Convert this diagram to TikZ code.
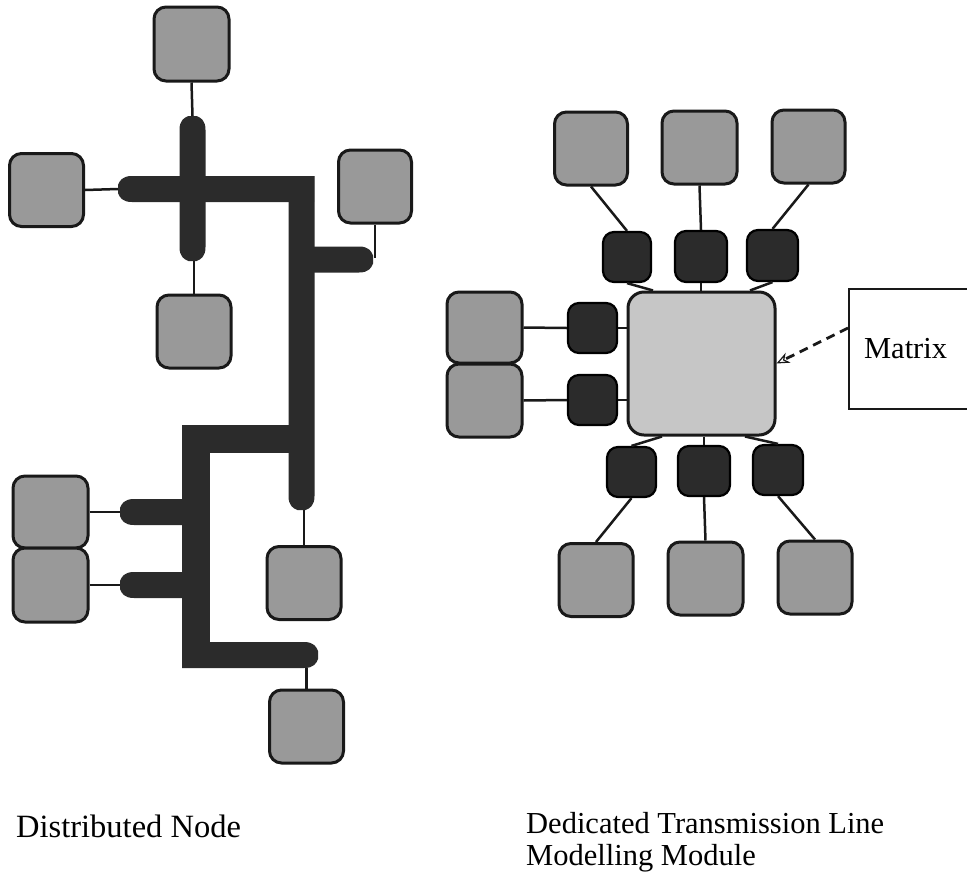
\documentclass[tikz,border=0pt]{standalone}
\usepackage{fontspec}
\setmainfont{Liberation Serif}
\usetikzlibrary{arrows.meta,calc}
\definecolor{busc}{HTML}{2B2B2B}
\definecolor{boxc}{HTML}{999999}
\definecolor{matc}{HTML}{C6C6C6}
\tikzset{
  gbox/.style={draw=black!90, line width=3pt, fill=boxc, rounded corners=12pt, inner sep=0pt, minimum width=74pt, minimum height=73pt},
  dbox/.style={draw=black, line width=2.2pt, fill=busc, rounded corners=11pt, inner sep=0pt, minimum width=50pt, minimum height=50pt},
  mbox/.style={draw=black!90, line width=3pt, fill=matc, rounded corners=16pt, inner sep=0pt, minimum width=147pt, minimum height=143pt},
  wire/.style={line width=2.5pt, draw=black!90},
  caption/.style={font=\fontsize{31}{36}\selectfont, inner sep=0pt, anchor=base west},
  pics/tipbar/.style={code={\fill[busc] (#1,-13) -- (14,-13) .. controls (4,-13) and (1.5,-8) .. (0,-4) -- (0,4) .. controls (1.5,8) and (4,13) .. (14,13) -- (#1,13) -- cycle;}},
}
\begin{document}
\begin{tikzpicture}[x=1pt,y=-1pt]
\path[fill=white, use as bounding box] (0,0) rectangle (967,879);

% ---------- Distributed node: bus structure ----------
\pic[rotate=-90] at (192.5,116) {tipbar=73};
\pic[rotate=90] at (192.5,261) {tipbar=73};
\pic at (118,189) {tipbar=196};
\pic[rotate=90] at (301.5,510) {tipbar=334};
\pic[rotate=180] at (373,259.5) {tipbar=62};
\fill[busc] (182,425) rectangle (312,453);
\fill[busc] (182,425) rectangle (210,668);
\pic[rotate=180] at (318,655) {tipbar=136};
\pic at (120,512) {tipbar=64};
\pic at (120,585) {tipbar=64};

\coordinate (captop) at (192.5,116);
\coordinate (capbot) at (192.5,261);
\coordinate (hbtip) at (118,189);
\coordinate (rstip) at (374,258);
\coordinate (vbot) at (301.5,510);
\coordinate (bbot) at (306,668);
\coordinate (s1tip) at (120,512);
\coordinate (s2tip) at (120,585);

% ---------- Distributed node: boxes ----------
\node[gbox, minimum width=75pt, minimum height=74pt] (t1) at (191.5,44) {};
\node[gbox] (t2) at (46.5,190) {};
\node[gbox, minimum width=73pt] (t3) at (375,186.5) {};
\node[gbox] (t4) at (194,331.5) {};
\node[gbox, minimum width=75pt, minimum height=72pt] (m1) at (50.5,512) {};
\node[gbox, minimum width=75pt, minimum height=74pt] (m2) at (50.5,585) {};
\node[gbox] (m3) at (304,583) {};
\node[gbox] (m4) at (306.5,726.5) {};

\draw[wire] (t1.south) -- (captop);
\draw[wire] (t2.east) -- (hbtip);
\draw[wire] (t3.south) -- (t3.south |- rstip);
\draw[wire] (t4.north) -- (t4.north |- capbot);
\draw[wire] (m1.east) -- (s1tip);
\draw[wire] (m2.east) -- (s2tip);
\draw[wire] (m3.north) -- (m3.north |- vbot);
\draw[wire] (m4.north) -- (m4.north |- bbot);

% ---------- Dedicated TLM module ----------
\node[mbox] (M) at (701.5,363.5) {};

\node[gbox, minimum width=73pt] (A) at (591,148.5) {};
\node[gbox, minimum width=75pt] (B) at (699.5,147.5) {};
\node[gbox, minimum width=73pt] (C) at (808.5,146.5) {};

\node[dbox, minimum width=48pt] (D1) at (627,257) {};
\node[dbox, minimum width=52pt, minimum height=51pt] (D2) at (701,256.5) {};
\node[dbox, minimum width=51pt, minimum height=51pt] (D3) at (772.5,255.5) {};

\node[dbox, minimum width=49pt] (L1) at (592.5,328) {};
\node[dbox, minimum width=49pt] (L2) at (592.5,400) {};

\node[gbox, minimum width=75pt, minimum height=71pt] (LB1) at (484.5,327.5) {};
\node[gbox, minimum width=75pt, minimum height=73pt] (LB2) at (484.5,400.5) {};

\node[dbox, minimum width=49pt] (B1) at (631.5,472) {};
\node[dbox, minimum width=52pt] (B2) at (704,471) {};
\node[dbox] (B3) at (778,470) {};

\node[gbox] (BB1) at (596,580) {};
\node[gbox, minimum width=75pt] (BB2) at (705.5,578.5) {};
\node[gbox] (BB3) at (815,577.5) {};

\draw[wire] (A.south) -- (D1.north);
\draw[wire] (B.south) -- (D2.north);
\draw[wire] (C.south) -- (D3.north);
\draw[wire] (D1.south) -- ([xshift=-48.5pt]M.north);
\draw[wire] (D2.south) -- (D2.south |- M.north);
\draw[wire] (D3.south) -- ([xshift=48.5pt]M.north);
\draw[wire] (LB1.east) -- (L1.west);
\draw[wire] (L1.east) -- (L1.east -| M.west);
\draw[wire] (LB2.east) -- (L2.west);
\draw[wire] (L2.east) -- (L2.east -| M.west);
\draw[wire] ([xshift=-39.5pt]M.south) -- (B1.north);
\draw[wire] (B2.north |- M.south) -- (B2.north);
\draw[wire] ([xshift=43.5pt]M.south) -- (B3.north);
\draw[wire] (B1.south) -- (BB1.north);
\draw[wire] (B2.south) -- (BB2.north);
\draw[wire] (B3.south) -- (BB3.north);

% Matrix label
\node[draw=black!90, line width=2.2pt, fill=white, minimum width=126pt, minimum height=120pt,
      inner xsep=15pt, text width=96pt, align=left, font=\fontsize{30.5}{34}\selectfont,
      anchor=west] (lbl) at (848,349) {Matrix};
\draw[line width=2.8pt, draw=black!90, dash pattern=on 9pt off 6pt,
      -{Stealth[length=13pt,width=11pt,open,line width=1.2pt]}]
      ([yshift=21pt]lbl.west) -- (M.east);

% Captions
\node[caption, font=\fontsize{32.5}{38}\selectfont] (cap1) at (16,837) {Distributed Node};
\node[caption, font=\fontsize{30.5}{36}\selectfont] (cap2) at (526,833) {Dedicated Transmission Line};
\node[caption, font=\fontsize{30.5}{36}\selectfont] (cap3) at (526,865) {Modelling Module};
\end{tikzpicture}
\end{document}
